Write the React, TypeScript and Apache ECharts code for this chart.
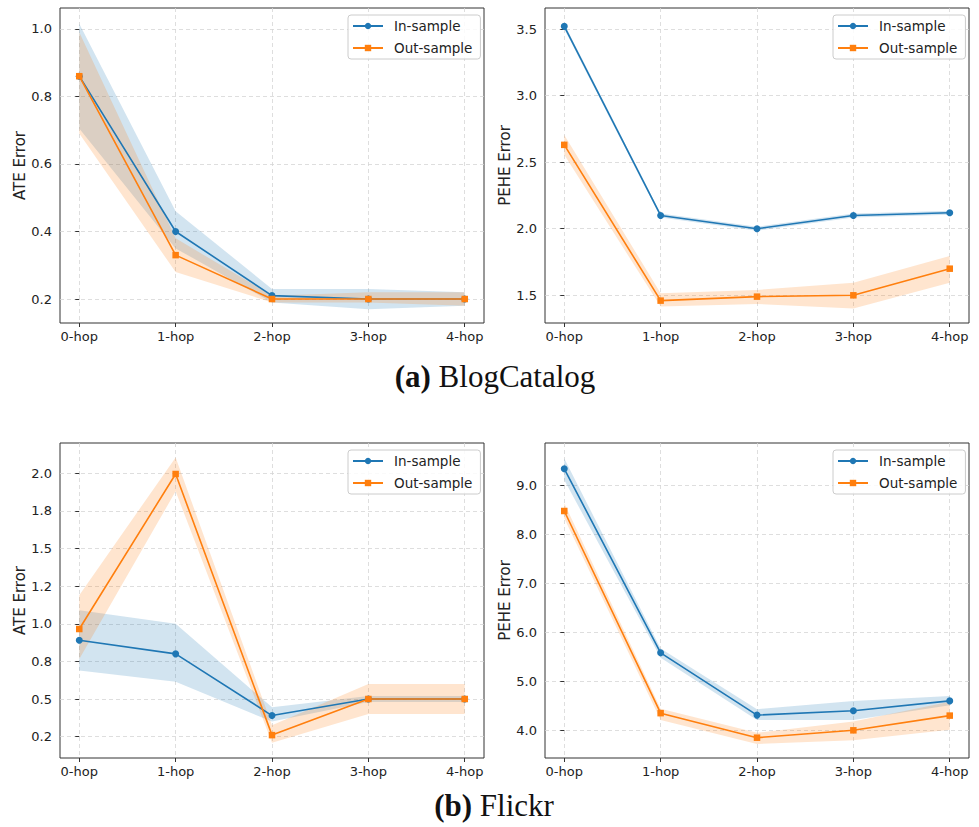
import React, { useEffect, useRef } from 'react';
import * as echarts from 'echarts';

const hops = ['0-hop', '1-hop', '2-hop', '3-hop', '4-hop'];
const xTicks = [0, 1, 2, 3, 4];

// (a) BlogCatalog - ATE
const blogAteIn = [0.86, 0.40, 0.21, 0.20, 0.20];
const blogAteInLo = [0.705, 0.35, 0.19, 0.17, 0.18];
const blogAteInHi = [1.015, 0.46, 0.23, 0.23, 0.22];
const blogAteOut = [0.86, 0.33, 0.20, 0.20, 0.20];
const blogAteOutLo = [0.69, 0.28, 0.19, 0.19, 0.18];
const blogAteOutHi = [0.99, 0.38, 0.21, 0.22, 0.22];
const blogAteTicks = [0.2, 0.4, 0.6, 0.8, 1.0];
const blogAteTickLabels = ['0.2', '0.4', '0.6', '0.8', '1.0'];

// (a) BlogCatalog - PEHE
const blogPeheIn = [3.52, 2.10, 2.00, 2.10, 2.12];
const blogPeheInLo = [3.50, 2.085, 1.985, 2.085, 2.105];
const blogPeheInHi = [3.54, 2.115, 2.015, 2.115, 2.135];
const blogPeheOut = [2.63, 1.46, 1.49, 1.50, 1.70];
const blogPeheOutLo = [2.555, 1.415, 1.435, 1.40, 1.595];
const blogPeheOutHi = [2.705, 1.515, 1.54, 1.595, 1.795];
const blogPeheTicks = [1.5, 2.0, 2.5, 3.0, 3.5];
const blogPeheTickLabels = ['1.5', '2.0', '2.5', '3.0', '3.5'];

// (b) Flickr - ATE
const flickrAteIn = [0.89, 0.80, 0.39, 0.50, 0.50];
const flickrAteInLo = [0.69, 0.615, 0.35, 0.48, 0.48];
const flickrAteInHi = [1.09, 1.00, 0.445, 0.52, 0.52];
const flickrAteOut = [0.965, 1.995, 0.26, 0.50, 0.50];
const flickrAteOutLo = [0.765, 1.88, 0.21, 0.40, 0.40];
const flickrAteOutHi = [1.19, 2.105, 0.325, 0.60, 0.60];
const flickrAteTicks = [0.25, 0.5, 0.75, 1.0, 1.25, 1.5, 1.75, 2.0];
const flickrAteTickLabels = ['0.2', '0.5', '0.8', '1.0', '1.2', '1.5', '1.8', '2.0'];

// (b) Flickr - PEHE
const flickrPeheIn = [9.33, 5.58, 4.31, 4.40, 4.60];
const flickrPeheInLo = [9.10, 5.48, 4.21, 4.21, 4.51];
const flickrPeheInHi = [9.54, 5.67, 4.43, 4.60, 4.70];
const flickrPeheOut = [8.47, 4.35, 3.85, 4.00, 4.30];
const flickrPeheOutLo = [8.32, 4.21, 3.72, 3.80, 4.01];
const flickrPeheOutHi = [8.63, 4.44, 3.95, 4.18, 4.58];
const flickrPeheTicks = [4, 5, 6, 7, 8, 9];
const flickrPeheTickLabels = ['4.0', '5.0', '6.0', '7.0', '8.0', '9.0'];

const BLUE = '#1f77b4';
const ORANGE = '#ff7f0e';
const FONT = 'DejaVu Sans';

const panels = [
  {
    left: 60, top: 8, yMin: 0.129, yMax: 1.062, name: 'ATE Error',
    ticks: blogAteTicks, tickLabels: blogAteTickLabels,
    inV: blogAteIn, inLo: blogAteInLo, inHi: blogAteInHi,
    outV: blogAteOut, outLo: blogAteOutLo, outHi: blogAteOutHi,
  },
  {
    left: 545, top: 8, yMin: 1.292, yMax: 3.658, name: 'PEHE Error',
    ticks: blogPeheTicks, tickLabels: blogPeheTickLabels,
    inV: blogPeheIn, inLo: blogPeheInLo, inHi: blogPeheInHi,
    outV: blogPeheOut, outLo: blogPeheOutLo, outHi: blogPeheOutHi,
  },
  {
    left: 60, top: 443, yMin: 0.108, yMax: 2.201, name: 'ATE Error',
    ticks: flickrAteTicks, tickLabels: flickrAteTickLabels,
    inV: flickrAteIn, inLo: flickrAteInLo, inHi: flickrAteInHi,
    outV: flickrAteOut, outLo: flickrAteOutLo, outHi: flickrAteOutHi,
  },
  {
    left: 545, top: 443, yMin: 3.436, yMax: 9.856, name: 'PEHE Error',
    ticks: flickrPeheTicks, tickLabels: flickrPeheTickLabels,
    inV: flickrPeheIn, inLo: flickrPeheInLo, inHi: flickrPeheInHi,
    outV: flickrPeheOut, outLo: flickrPeheOutLo, outHi: flickrPeheOutHi,
  },
];

const GW = 424;
const GH = 315;

function bandSeries(idx: number, lo: number[], hi: number[], fill: string, z: number) {
  return {
    type: 'custom',
    xAxisIndex: idx,
    yAxisIndex: idx,
    silent: true,
    z,
    data: [[0, 0]],
    renderItem: (_params: any, api: any) => {
      const pts: number[][] = [];
      for (let i = 0; i < hi.length; i++) pts.push(api.coord([xTicks[i], hi[i]]));
      for (let i = lo.length - 1; i >= 0; i--) pts.push(api.coord([xTicks[i], lo[i]]));
      return { type: 'polygon', shape: { points: pts }, style: { fill } };
    },
  };
}

function lineSeries(idx: number, name: string, vals: number[], color: string, symbol: string, size: number, z: number) {
  return {
    type: 'line',
    name,
    xAxisIndex: idx,
    yAxisIndex: idx,
    data: vals.map((v, i) => [xTicks[i], v]),
    symbol,
    symbolSize: size,
    showSymbol: true,
    z,
    lineStyle: { color, width: 1.6 },
    itemStyle: { color },
  };
}

export default function App() {
  const ref = useRef<HTMLDivElement>(null);
  useEffect(() => {
    if (!ref.current) return;
    const chart = echarts.init(ref.current, null, { renderer: 'svg' });
    const grid: any[] = [];
    const xAxis: any[] = [];
    const yAxis: any[] = [];
    const legend: any[] = [];
    const series: any[] = [];
    panels.forEach((p, idx) => {
      grid.push({
        left: p.left, top: p.top, width: GW, height: GH,
        show: true, borderColor: '#333', borderWidth: 1, backgroundColor: 'transparent',
      });
      xAxis.push({
        type: 'value', gridIndex: idx, min: -0.2, max: 4.2,
        axisLine: { show: false },
        axisTick: { show: true, length: 4, customValues: xTicks, lineStyle: { color: '#333', width: 1 } },
        axisLabel: {
          customValues: xTicks, margin: 7, color: '#222', fontFamily: FONT, fontSize: 13,
          formatter: (v: number) => hops[Math.round(v)],
        },
        splitLine: { show: true, lineStyle: { color: '#d6d6d6', type: [4, 3], width: 0.8 } },
      });
      yAxis.push({
        type: 'value', gridIndex: idx, min: p.yMin, max: p.yMax,
        name: p.name, nameLocation: 'middle', nameGap: 33,
        nameTextStyle: { fontFamily: FONT, fontSize: 15, color: '#222' },
        axisLine: { show: false },
        axisTick: { show: true, length: 4, customValues: p.ticks, lineStyle: { color: '#333', width: 1 } },
        axisLabel: {
          customValues: p.ticks, margin: 8, color: '#222', fontFamily: FONT, fontSize: 13,
          formatter: (v: number) => {
            const k = p.ticks.findIndex((t) => Math.abs(t - v) < 1e-9);
            return k >= 0 ? p.tickLabels[k] : '';
          },
        },
        splitLine: { show: true, lineStyle: { color: '#d6d6d6', type: [4, 3], width: 0.8 } },
      });
      legend.push({
        data: ['In-sample', 'Out-sample'],
        orient: 'vertical',
        left: p.left + GW - 7 - 129,
        top: p.top + 7,
        width: 129,
        itemWidth: 30,
        itemHeight: 8,
        itemGap: 8,
        padding: [4, 8, 4, 4],
        borderColor: '#cccccc',
        borderWidth: 1,
        borderRadius: 3,
        backgroundColor: 'rgba(255,255,255,0.85)',
        selectedMode: false,
        textStyle: { fontFamily: FONT, fontSize: 13.5, color: '#222', padding: [0, 0, 0, 6] },
      });
      series.push(bandSeries(idx, p.inLo, p.inHi, 'rgba(31,119,180,0.2)', 1));
      series.push(bandSeries(idx, p.outLo, p.outHi, 'rgba(255,127,14,0.2)', 1));
      series.push(lineSeries(idx, 'In-sample', p.inV, BLUE, 'circle', 7, 3));
      series.push(lineSeries(idx, 'Out-sample', p.outV, ORANGE, 'rect', 6.5, 4));
    });
    chart.setOption({
      animation: false,
      backgroundColor: '#ffffff',
      grid, xAxis, yAxis, legend, series,
      graphic: [
        {
          type: 'text', x: 495, y: 376,
          style: {
            text: '{b|(a)} BlogCatalog', fontFamily: 'Liberation Serif', fontSize: 31, fill: '#111',
            align: 'center', verticalAlign: 'middle',
            rich: { b: { fontWeight: 'bold', fontFamily: 'Liberation Serif', fontSize: 31, fill: '#111' } },
          },
        },
        {
          type: 'text', x: 494, y: 805,
          style: {
            text: '{b|(b)} Flickr', fontFamily: 'Liberation Serif', fontSize: 31, fill: '#111',
            align: 'center', verticalAlign: 'middle',
            rich: { b: { fontWeight: 'bold', fontFamily: 'Liberation Serif', fontSize: 31, fill: '#111' } },
          },
        },
      ],
    });
    return () => chart.dispose();
  }, []);
  return <div ref={ref} style={{ position: 'absolute', left: 0, top: 0, width: 979, height: 827 }} />;
}
